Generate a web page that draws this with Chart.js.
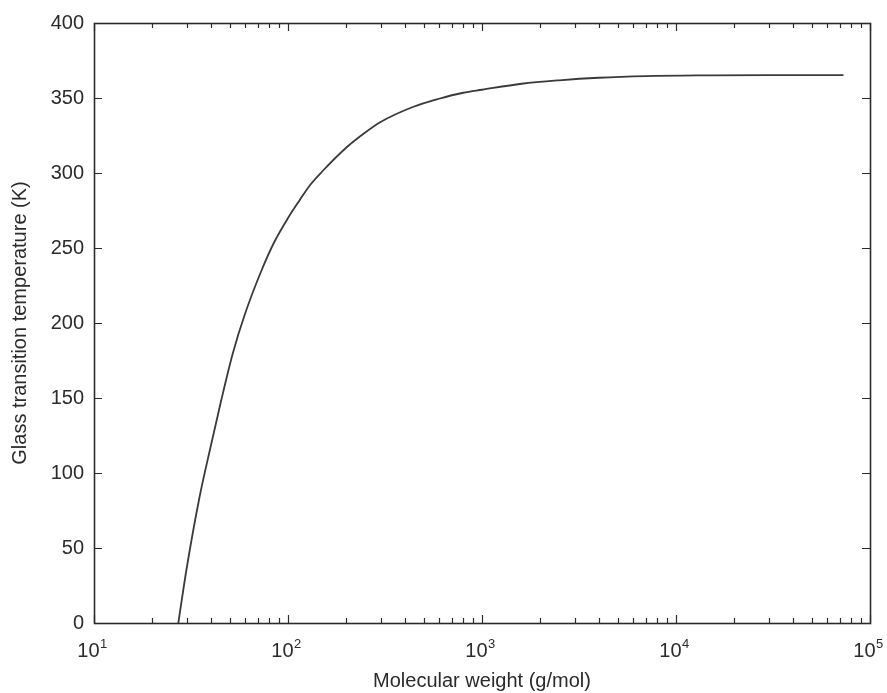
<!DOCTYPE html>
<html>
<head>
<meta charset="utf-8">
<script src="https://cdn.jsdelivr.net/npm/chart.js@4/dist/chart.umd.min.js"></script>
<style>
  html, body { margin: 0; padding: 0; background: #ffffff; }
  canvas { display: block; }
</style>
</head>
<body>
<canvas id="c" width="887" height="693"></canvas>
<script>
// ---- data ----
const molWeight = [27.2, 30, 35, 40, 45, 52, 60, 73, 85, 100, 115, 130, 150, 200, 250, 300, 440, 600, 800, 1000, 1600, 2500, 4000, 7000, 15000, 30000, 73000];
const tgValues  = [0, 36, 84, 118, 147, 180, 206, 235, 254, 270, 282, 292, 301, 317, 327, 334, 344, 349.5, 353.5, 355.5, 359.5, 361.8, 363.5, 364.6, 365.1, 365.3, 365.3];
const xDecades  = [10, 100, 1000, 10000, 100000];
const xExponents = ['1', '2', '3', '4', '5'];
const yTicks    = [0, 50, 100, 150, 200, 250, 300, 350, 400];
const xTitle = 'Molecular weight (g/mol)';
const yTitle = 'Glass transition temperature (K)';

const points = molWeight.map((m, i) => ({ x: m, y: tgValues[i] }));
const FONT = '"Liberation Sans", Arial, Helvetica, sans-serif';
const INK = '#2b2b2b';

const matlabAxes = {
  id: 'matlabAxes',
  afterDatasetsDraw(chart) {
    const ctx = chart.ctx;
    const a = chart.chartArea;
    const xs = chart.scales.x, ys = chart.scales.y;
    ctx.save();
    ctx.strokeStyle = INK;
    ctx.lineWidth = 1.2;
    // minor + major x ticks (bottom and top, inward)
    ctx.beginPath();
    for (let d = 0; d < xDecades.length; d++) {
      const dec = xDecades[d];
      const px = Math.round(xs.getPixelForValue(dec)) + 0.5;
      ctx.moveTo(px, a.bottom); ctx.lineTo(px, a.bottom - 8);
      ctx.moveTo(px, a.top); ctx.lineTo(px, a.top + 8);
      if (d < xDecades.length - 1) {
        for (let k = 2; k <= 9; k++) {
          const p = Math.round(xs.getPixelForValue(dec * k)) + 0.5;
          ctx.moveTo(p, a.bottom); ctx.lineTo(p, a.bottom - 5);
          ctx.moveTo(p, a.top); ctx.lineTo(p, a.top + 5);
        }
      }
    }
    // y ticks (left and right, inward)
    yTicks.forEach(v => {
      const py = Math.round(ys.getPixelForValue(v)) + 0.5;
      ctx.moveTo(a.left, py); ctx.lineTo(a.left + 8, py);
      ctx.moveTo(a.right, py); ctx.lineTo(a.right - 8, py);
    });
    ctx.stroke();
    // frame
    ctx.lineWidth = 1.6;
    ctx.strokeRect(Math.round(a.left) + 0.5, Math.round(a.top) + 0.5,
                   Math.round(a.right - a.left), Math.round(a.bottom - a.top));
    // x tick labels: 10^n
    ctx.fillStyle = INK;
    ctx.textBaseline = 'alphabetic';
    xDecades.forEach((v, i) => {
      const px = xs.getPixelForValue(v);
      ctx.font = '20px ' + FONT;
      const wBase = ctx.measureText('10').width;
      ctx.font = '13px ' + FONT;
      const wExp = ctx.measureText(xExponents[i]).width;
      const left = px - 2 - (wBase + wExp) / 2;
      ctx.font = '20px ' + FONT;
      ctx.textAlign = 'left';
      ctx.fillText('10', left, a.bottom + 34);
      ctx.font = '13px ' + FONT;
      ctx.fillText(xExponents[i], left + wBase + 0.5, a.bottom + 25);
    });
    ctx.restore();
  }
};

new Chart(document.getElementById('c'), {
  type: 'scatter',
  data: {
    datasets: [{
      data: points,
      showLine: true,
      borderColor: '#3a3a3a',
      borderWidth: 1.8,
      pointRadius: 0,
      cubicInterpolationMode: 'monotone',
      fill: false
    }]
  },
  options: {
    responsive: false,
    animation: false,
    devicePixelRatio: 1,
    layout: { padding: { top: 23, right: 17, left: 0, bottom: 0 } },
    plugins: { legend: { display: false }, tooltip: { enabled: false } },
    scales: {
      x: {
        type: 'logarithmic',
        min: 10, max: 100000,
        afterBuildTicks(scale) { scale.ticks = xDecades.map(v => ({ value: v })); },
        afterFit(scale) { scale.height = 70; },
        grid: { display: false, drawTicks: false },
        border: { display: false },
        ticks: { color: 'rgba(0,0,0,0)', callback: () => '10', font: { size: 20, family: FONT } },
        title: {
          display: true, text: xTitle, color: INK,
          font: { size: 20, family: FONT },
          padding: { top: 0, bottom: 0 }
        }
      },
      y: {
        type: 'linear',
        min: 0, max: 400,
        afterBuildTicks(scale) { scale.ticks = yTicks.map(v => ({ value: v })); },
        afterFit(scale) { scale.width = 94; },
        grid: { display: false, drawTicks: false },
        border: { display: false },
        ticks: { color: INK, padding: 10, font: { size: 20, family: FONT }, callback: v => String(v) },
        title: {
          display: true, text: yTitle, color: INK,
          font: { size: 20, family: FONT },
          padding: { top: 8, bottom: 0 }
        }
      }
    }
  },
  plugins: [matlabAxes]
});
</script>
</body>
</html>
